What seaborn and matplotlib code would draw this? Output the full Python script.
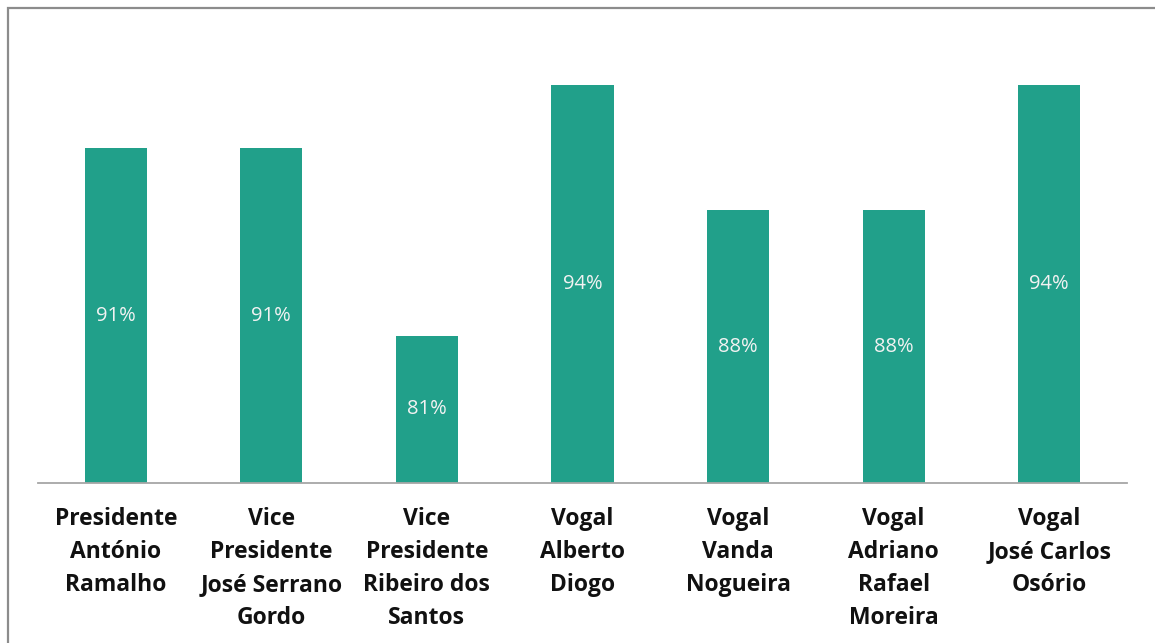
import matplotlib
matplotlib.use("Agg")
import matplotlib.pyplot as plt
import seaborn as sns
import pandas as pd
from matplotlib.patches import Rectangle

categories = ["Presidente\nAntónio\nRamalho",
              "Vice\nPresidente\nJosé Serrano\nGordo",
              "Vice\nPresidente\nRibeiro dos\nSantos",
              "Vogal\nAlberto\nDiogo",
              "Vogal\nVanda\nNogueira",
              "Vogal\nAdriano\nRafael\nMoreira",
              "Vogal\nJosé Carlos\nOsório"]
values = [90.9, 90.9, 81.2, 94.2, 87.7, 87.7, 94.2]

df = pd.DataFrame({"cat": categories, "val": values})

sns.set_style("white")
plt.rcParams['font.family'] = ['Open Sans', 'DejaVu Sans']

fig = plt.figure(figsize=(11.55, 6.43), dpi=100)
ax = fig.add_axes([38/1155, 1-483/643, (1127-38)/1155, (483-21)/643])

sns.barplot(data=df, x="cat", y="val", color="#21A08A", width=0.4,
            saturation=1, ax=ax, edgecolor="none")
ax.set_ylim(73.56, 97.5)
ax.set_xlim(-0.5, len(categories)-0.5)

for c in ax.containers:
    ax.bar_label(c, labels=[f"{v:.0f}%" for v in values], label_type="center",
                 color="#F2F2F2", fontsize=14.5)

ax.set_xlabel("")
ax.set_ylabel("")
ax.set_yticks([])
for s in ["top", "right", "left"]:
    ax.spines[s].set_visible(False)
ax.spines["bottom"].set_color("#A6A6A6")
ax.spines["bottom"].set_linewidth(1.3)

ax.tick_params(axis="x", which="major", length=0, pad=17)
ax.set_xticks(range(len(categories)))
ax.set_xticklabels(categories, fontsize=16.5, fontweight="bold", color="#111111",
                   linespacing=1.5, va="top")
ax.set_xticks([i - 0.5 for i in range(len(categories)+1)], minor=True)
ax.tick_params(axis="x", which="minor", length=7, width=1.3, color="#A6A6A6", direction="out")

fig.patches.append(Rectangle((8/1155, -0.1), 1.2, 1-8/643+0.1, transform=fig.transFigure,
                             fill=False, edgecolor="#8C8C8C", linewidth=1.6))

fig.savefig("out.png", dpi=100)
